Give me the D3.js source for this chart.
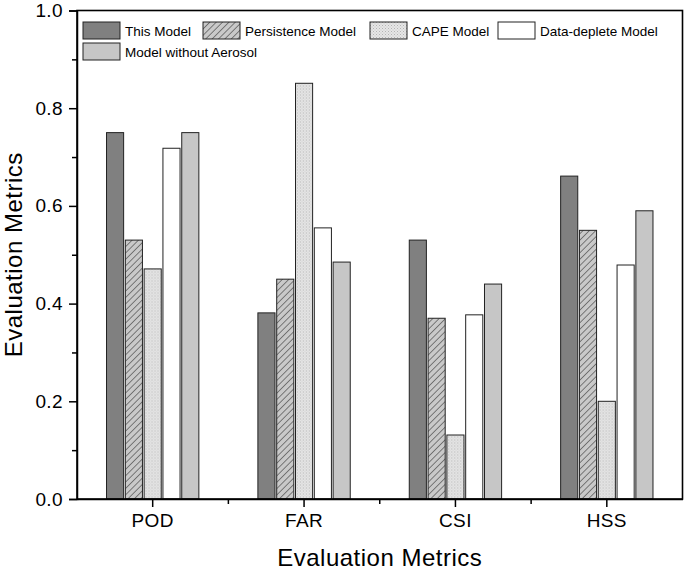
<!DOCTYPE html>
<html lang="en">
  <head>
    <meta charset="UTF-8" />
    <title>Evaluation Metrics</title>
    <script src="https://d3js.org/d3.v7.min.js"></script>
    <style>
      body {
        margin: 0;
        background: #fff;
      }
      svg text {
        font-family: "Liberation Sans", Arial, sans-serif;
        fill: #000;
      }
      .bar rect {
        stroke: #222;
        stroke-width: 1px;
      }
    </style>
  </head>
  <body>
    <div id="chart"></div>

    <script>
      const metrics = ["POD", "FAR", "CSI", "HSS"];
      const models = [
        "This Model",
        "Persistence Model",
        "CAPE Model",
        "Data-deplete Model",
        "Model without Aerosol",
      ];
      const thisModel = [0.75, 0.381, 0.53, 0.661];
      const persistenceModel = [0.53, 0.45, 0.37, 0.55];
      const capeModel = [0.471, 0.851, 0.131, 0.2];
      const dataDepleteModel = [0.718, 0.555, 0.377, 0.479];
      const noAerosolModel = [0.75, 0.485, 0.44, 0.59];
      const yTicks = [0, 0.2, 0.4, 0.6, 0.8, 1.0];

      const seriesValues = [
        thisModel,
        persistenceModel,
        capeModel,
        dataDepleteModel,
        noAerosolModel,
      ];

      const width = 685;
      const height = 572;
      const margin = { top: 10.5, right: 2.5, bottom: 73, left: 77 };
      const innerW = width - margin.left - margin.right;
      const innerH = height - margin.top - margin.bottom;

      const svg = d3
        .select("#chart")
        .append("svg")
        .attr("width", width)
        .attr("height", height);

      // fill patterns
      const defs = svg.append("defs");
      const hatch = defs
        .append("pattern")
        .attr("id", "hatch")
        .attr("patternUnits", "userSpaceOnUse")
        .attr("width", 4.5)
        .attr("height", 4.5)
        .attr("patternTransform", "rotate(45)");
      hatch.append("rect").attr("width", 4.5).attr("height", 4.5).attr("fill", "#c9c9c9");
      hatch
        .append("line")
        .attr("x1", 0)
        .attr("y1", 0)
        .attr("x2", 0)
        .attr("y2", 4.5)
        .attr("stroke", "#333")
        .attr("stroke-width", 1.1);

      const dots = defs
        .append("pattern")
        .attr("id", "dots")
        .attr("patternUnits", "userSpaceOnUse")
        .attr("width", 3)
        .attr("height", 3);
      dots.append("rect").attr("width", 3).attr("height", 3).attr("fill", "#e6e6e6");
      dots
        .append("rect")
        .attr("x", 0)
        .attr("y", 0)
        .attr("width", 1)
        .attr("height", 1)
        .attr("fill", "#b4b4b4");
      dots
        .append("rect")
        .attr("x", 1.5)
        .attr("y", 1.5)
        .attr("width", 1)
        .attr("height", 1)
        .attr("fill", "#c4c4c4");

      const fills = ["#808080", "url(#hatch)", "url(#dots)", "#ffffff", "#c6c6c6"];

      const g = svg
        .append("g")
        .attr("transform", `translate(${margin.left},${margin.top})`);

      const x0 = d3
        .scaleBand()
        .domain(metrics)
        .range([0, innerW])
        .paddingInner(0.39)
        .paddingOuter(0.195);

      const x1 = d3
        .scaleBand()
        .domain(models)
        .range([0, x0.bandwidth()])
        .paddingInner(0.09);

      const y = d3.scaleLinear().domain([0, 1]).range([innerH, 0]);

      // bars
      const groups = g
        .selectAll("g.bar")
        .data(metrics)
        .join("g")
        .attr("class", "bar")
        .attr("transform", (d) => `translate(${x0(d)},0)`);

      groups
        .selectAll("rect")
        .data((m, i) => models.map((name, j) => ({ name, j, value: seriesValues[j][i] })))
        .join("rect")
        .attr("x", (d) => x1(d.name))
        .attr("y", (d) => y(d.value))
        .attr("width", x1.bandwidth())
        .attr("height", (d) => innerH - y(d.value))
        .attr("fill", (d) => fills[d.j]);

      // y axis with minor ticks
      const yAxis = g
        .append("g")
        .call(
          d3
            .axisLeft(y)
            .tickValues(yTicks)
            .tickFormat(d3.format(".1f"))
            .tickSize(8)
            .tickPadding(6)
        );
      g.append("g")
        .call(
          d3
            .axisLeft(y)
            .tickValues([0.1, 0.3, 0.5, 0.7, 0.9])
            .tickSize(5)
            .tickFormat("")
        )
        .select(".domain")
        .remove();

      // x axis with minor ticks at group borders
      const xAxis = g
        .append("g")
        .attr("transform", `translate(0,${innerH})`)
        .call(d3.axisBottom(x0).tickSize(8).tickPadding(7).tickSizeOuter(0));
      const borders = metrics.slice(1).map((m) => x0(m) - (x0.step() - x0.bandwidth()) / 2);
      g.append("g")
        .attr("transform", `translate(0,${innerH})`)
        .selectAll("line")
        .data(borders)
        .join("line")
        .attr("x1", (d) => d)
        .attr("x2", (d) => d)
        .attr("y1", 0)
        .attr("y2", 5)
        .attr("stroke", "#000")
        .attr("stroke-width", 1.5);

      [yAxis, xAxis].forEach((a) => {
        a.selectAll("text").style("font-size", "19px").style("letter-spacing", "0.4px");
        a.select(".domain").attr("stroke-width", 1.5);
      });
      g.selectAll(".tick line").attr("stroke-width", 1.5);

      // frame
      g.append("rect")
        .attr("width", innerW)
        .attr("height", innerH)
        .attr("fill", "none")
        .attr("stroke", "#000")
        .attr("stroke-width", 1.6);

      // axis titles
      svg
        .append("text")
        .attr("x", margin.left + innerW / 2)
        .attr("y", 566)
        .attr("text-anchor", "middle")
        .style("font-size", "24px")
        .style("letter-spacing", "0.5px")
        .text("Evaluation Metrics");

      svg
        .append("text")
        .attr("transform", `translate(22,${margin.top + innerH / 2}) rotate(-90)`)
        .attr("text-anchor", "middle")
        .style("font-size", "24px")
        .style("letter-spacing", "0.5px")
        .text("Evaluation Metrics");

      // legend
      const legendPos = [
        [83, 22],
        [203, 22],
        [370, 22],
        [498, 22],
        [83, 43],
      ];
      const legend = svg
        .append("g")
        .selectAll("g")
        .data(models)
        .join("g")
        .attr("transform", (d, i) => `translate(${legendPos[i][0]},${legendPos[i][1]})`);
      legend
        .append("rect")
        .attr("width", 37)
        .attr("height", 17)
        .attr("fill", (d, i) => fills[i])
        .attr("stroke", "#222")
        .attr("stroke-width", 1);
      legend
        .append("text")
        .attr("x", 42)
        .attr("y", 14)
        .style("font-size", "13.5px")
        .text((d) => d);
    </script>
  </body>
</html>
